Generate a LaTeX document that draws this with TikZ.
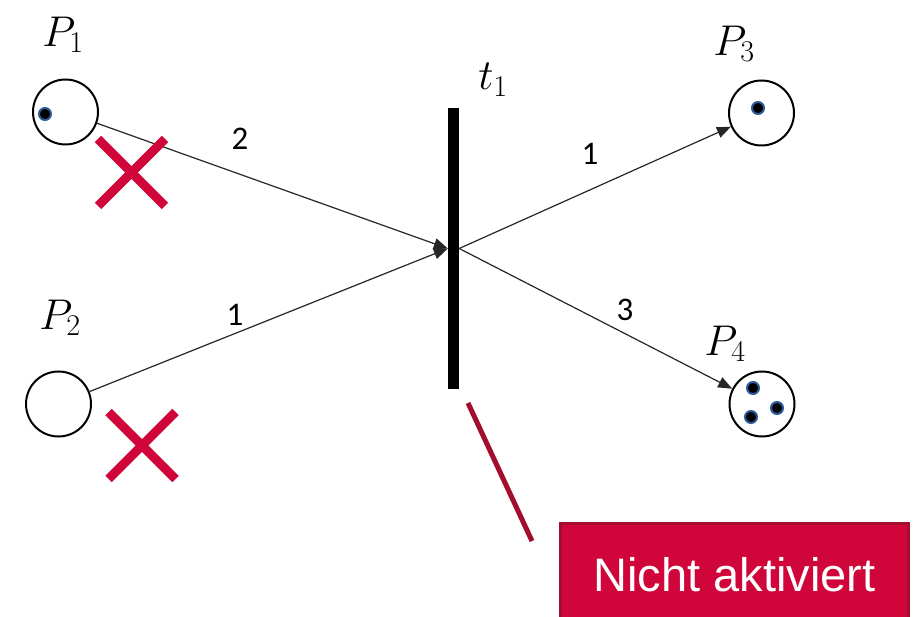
\documentclass[tikz,border=0pt]{standalone}
\usepackage{fix-cm}
\usepackage{fontspec}
\setsansfont{Liberation Sans}
\newfontfamily\arclabelfont{Carlito}
\usepackage{tikz}
\usetikzlibrary{positioning,arrows.meta,calc,shapes.misc}
\definecolor{nogored}{HTML}{D0063A}
\definecolor{nogoline}{HTML}{A30D2E}
\definecolor{tokenring}{HTML}{2E5C9A}

\begin{document}
\begin{tikzpicture}[
  x=1pt, y=-1pt,
  place/.style={draw=black, circle, line width=2pt, minimum size=65pt, inner sep=0pt},
  trans/.style={fill=black, rectangle, minimum width=11pt, minimum height=281pt, inner sep=0pt},
  token/.style={circle, fill=black, draw=tokenring, line width=2pt, minimum size=12pt, inner sep=0pt},
  arc/.style={-{Triangle[length=14pt, width=11pt]}, line width=1.2pt, black!85},
  wlab/.style={font=\arclabelfont\fontsize{33}{36}\selectfont, inner sep=0pt},
  plab/.style={font=\fontsize{43}{48}\selectfont, inner sep=0pt},
  nogo/.style={cross out, draw=nogored, line width=9pt, minimum size=58pt, inner sep=0pt},
  callout/.style={draw=nogoline, line width=5pt},
  notebox/.style={fill=nogored, draw=nogoline, line width=3pt, minimum width=348pt,
                  minimum height=102pt, font=\sffamily\fontsize{47}{52}\selectfont, text=white}
]
\useasboundingbox (0,0) rectangle (913,617);
% ----- places -----
\node[place] (p1) at (65.5,112) {};
\node[place] (p2) at (58.5,404) {};
\node[place] (p3) at (761.5,113) {};
\node[place] (p4) at (762,404) {};
\node[token] at (45,114) {};
\node[token] at (758,108) {};
\node[token] at (753,388) {};
\node[token] at (777,408) {};
\node[token] at (751,417) {};
\node[plab] (p1lab) at (63,35) {$P_1$};
\node[plab] (p2lab) at (60,318) {$P_2$};
\node[plab] (p3lab) at (734,44) {$P_3$};
\node[plab] (p4lab) at (725,344) {$P_4$};
% ----- transition -----
\node[trans] (t1) at (453.5,248.5) {};
\node[plab] (t1lab) at (493,80) {$t_1$};
% ----- arcs -----
\draw[arc] (p1) -- (t1.west);
\draw[arc] (p2) -- (t1.west);
\draw[arc] (t1.east) -- (p3);
\draw[arc] (t1.east) -- (p4);
\node[wlab] (w1) at (240,139) {2};
\node[wlab] (w2) at (235,315) {1};
\node[wlab] (w3) at (590,154) {1};
\node[wlab] (w4) at (625,310) {3};
% ----- not enabled -----
\node[nogo] (x1) at (131.5,172.5) {};
\node[nogo] (x2) at (142,445.5) {};
\coordinate (calltop) at (468,403);
\coordinate (callbot) at (532,541);
\draw[callout] (calltop) -- (callbot);
\node[notebox, anchor=north west] (note) at (559,522) {Nicht aktiviert};
\end{tikzpicture}
\end{document}
